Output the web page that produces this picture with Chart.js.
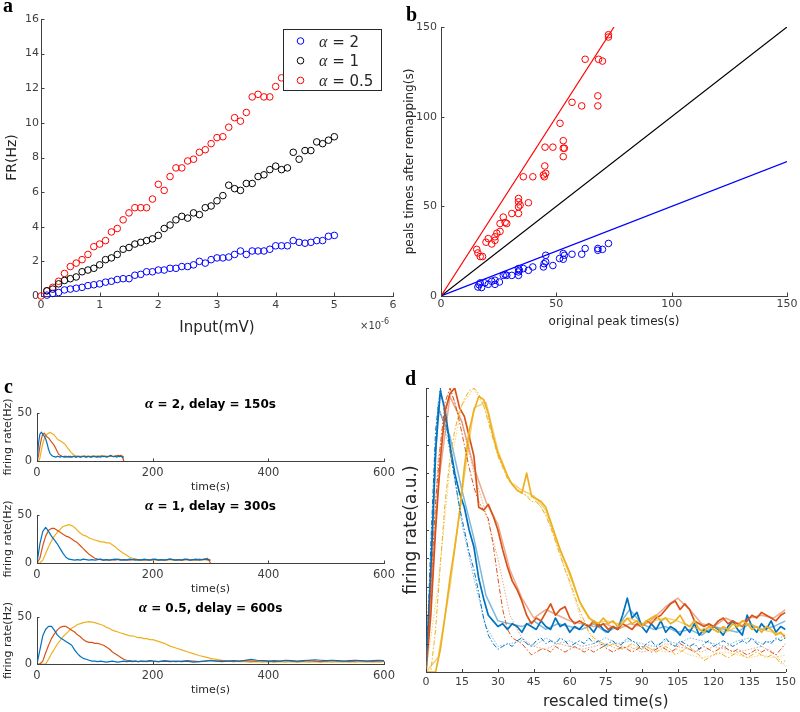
<!DOCTYPE html>
<html><head><meta charset="utf-8">
<script src="https://cdn.jsdelivr.net/npm/chart.js@4.4.1/dist/chart.umd.min.js"></script>
<style>
html,body{margin:0;padding:0;background:#fff;}
body{width:800px;height:712px;position:relative;overflow:hidden;}
canvas{position:absolute;}
</style></head><body>
<canvas id="pa" width="400" height="345" style="left:0;top:0"></canvas>
<canvas id="pb" width="400" height="345" style="left:400px;top:0"></canvas>
<canvas id="pc1" width="400" height="124" style="left:0;top:370px"></canvas>
<canvas id="pc2" width="400" height="102" style="left:0;top:494px"></canvas>
<canvas id="pc3" width="400" height="102" style="left:0;top:596px"></canvas>
<canvas id="pd" width="400" height="352" style="left:400px;top:360px"></canvas>
<script>
// ---------- Panel a data (Input in units of 1e-6 mV) ----------
const aBlueX = [0.1,0.2,0.3,0.4,0.5,0.6,0.7,0.8,0.9,1.0,1.1,1.2,1.3,1.4,1.5,1.6,1.7,1.8,1.9,2.0,2.1,2.2,2.3,2.4,2.5,2.6,2.7,2.8,2.9,3.0,3.1,3.2,3.3,3.4,3.5,3.6,3.7,3.8,3.9,4.0,4.1,4.2,4.3,4.4,4.5,4.6,4.7,4.8,4.9,5.0];
const aBlueY = [0.05,0.15,0.2,0.35,0.4,0.45,0.5,0.6,0.65,0.7,0.8,0.85,0.95,1.0,1.0,1.2,1.25,1.4,1.4,1.5,1.5,1.6,1.6,1.7,1.7,1.8,2.0,1.9,2.1,2.2,2.2,2.25,2.4,2.6,2.4,2.6,2.6,2.6,2.7,2.9,2.9,2.9,3.2,3.1,3.05,3.1,3.2,3.2,3.45,3.5];
const aBlackX = aBlueX;
const aBlackY = [0.3,0.4,0.7,0.9,1.0,1.1,1.4,1.5,1.6,1.8,2.1,2.2,2.4,2.7,2.8,3.0,3.1,3.2,3.3,3.5,3.9,4.1,4.4,4.6,4.5,4.8,4.7,5.1,5.2,5.5,5.8,6.4,6.2,6.1,6.5,6.5,6.9,7.0,7.3,7.5,7.3,7.4,8.3,7.9,8.4,8.4,8.9,8.8,9.0,9.2];
const aRedX = [0,0.1,0.2,0.3,0.4,0.5,0.6,0.7,0.8,0.9,1.0,1.1,1.2,1.3,1.4,1.5,1.6,1.7,1.8,1.9,2.0,2.1,2.2,2.3,2.4,2.5,2.6,2.7,2.8,2.9,3.0,3.1,3.2,3.3,3.4,3.5,3.6,3.7,3.8,3.9,4.0,4.1];
const aRedY = [0,0.3,0.5,0.85,1.3,1.7,1.9,2.1,2.4,2.85,3.0,3.2,3.7,3.9,4.4,4.8,5.1,5.1,5.1,5.6,6.45,6.1,6.9,7.4,7.4,7.8,7.9,8.3,8.45,8.8,9.15,9.2,9.75,10.3,10.1,10.6,11.5,11.65,11.5,11.5,12.1,12.6];
const aLegend = ['α = 2','α = 1','α = 0.5'];

// ---------- Panel b data ----------
const bRedX = [15.5,16,17,18,19.5,20.5,22,23.4,23.4,24.2,25.6,25.6,27,27.8,28.5,30.7,33.6,33.6,33.6,33.6,34.3,35.7,37.9,39.8,44.4,44.8,45,45.4,45.1,48.5,51.6,53,53,53.5,53,56.8,61,62.5,68,68,68.3,70,72.6,72.6];
const bRedY = [26,24,22,22,30,32,29,33,31,35,36,40.4,44,41,40.4,46,54.4,52.5,49.7,46,50.7,66.5,52,66.5,67.5,66.5,72.5,68.4,83,83,96.3,86.6,82.4,82.4,77.7,108,106,132,111.6,106,132,131,145.7,144.4];
const bBlueX = [16,16.5,17,17.6,19,20.5,22,23.4,23.4,25.3,27,27.8,28.5,30.7,33.6,33.6,33.6,34,35.7,37.9,39.8,44.4,44.7,45.4,45.4,48.5,51.4,53,53.5,53,56.8,61,62.5,68,68,70,72.6];
const bBlueY = [5,6.3,7.3,4.7,7.3,6.5,8.2,6.5,8.8,7.8,11.5,12,11.5,11.5,15.3,13.4,11.5,14.3,15.3,14.3,16.2,16.2,18,22.7,19,17,20.9,23.7,22.7,20.5,23.3,23.3,26.5,26.5,25.5,26,29.3];
const bLineRedX = [0,75], bLineRedY = [0,150];
const bLineBlackX = [0,150], bLineBlackY = [0,150];
const bLineBlueX = [0,150], bLineBlueY = [0,75];

// ---------- Panel c data ----------
function sampleGrid(start, stop, step){ const o=[]; for(let k=0;start+k*step<=stop+1e-9;k++) o.push(+(start+k*step).toFixed(3)); return o; }
const c1T = sampleGrid(0,150,2.5);
const c1Blue = [0,18,28,30,28,26,23,18,12,8, 6,5,4.5,4,5,4.5,4,5,4.5,4, 5,4.5,4,5,4,4.5,5,4,4.5,5, 4,4.5,5,4.5,4,5,4.5,4,5,4.5, 5,4,5,4.5,4,5,4.5,5,4,4.5, 5,6,5,4.5,5,4,5,4.5,5,4, 4.5];
const c1Orange = [0,5,15,23,28,29,27,25,24,22, 20,18,16,13,10,7,6,5,4.5,5, 4,4.5,5,4,4.5,5,4.5,4,5,4.5, 4,5,4.5,5,4,4.5,5,4.5,4,5, 4.5,5,4,4.5,5,5.5,5,4.5,5,4.5, 5,5.5,5,4.5,5,5.5,6,5.5,6,5, 0];
const c1Yellow = [0,0,3,11,18,23,26,28,29,30, 29,28,27,25,23,22,21,20,19,18, 16,14,12,10,8.5,7,6,5.5,5,4.5, 5,4.5,5,5.5,5,4.5,5,4.5,5,5.5, 5,4.5,5,5.5,5,4.5,5,5,4.5,5, 5.5,5,4.5,5,5.5,5,4.5,5,5.5,5, 0];
const c2T = sampleGrid(0,300,5);
const c2Blue = [0,20,33,37,33,28,24,20,15,10, 6,4,3.5,3,3.5,3,4,3.5,3,3.5, 3,3.5,4,3,3.5,3,3.5,4,3.5,3, 3.5,3,4,3.5,3,3.5,3,4,3.5,3, 3.5,4,3,3.5,3,3.5,4,3.5,3,3.5, 3,4,3.5,3,3.5,4,3,3.5,4,3.5, 3];
const c2Orange = [0,5,18,28,34,36,36,34,32,30, 28,27,25,23,21,18,15,12,9,7, 5,4,3.5,3,3.5,3,3.5,3,4,3.5, 3,3.5,3,3.5,4,3,3.5,3,3.5,3, 4,3.5,3,3.5,3,3.5,4,3.5,3,3.5, 3,3.5,4,3,3.5,3,4,3.5,4,5, 0];
const c2Yellow = [0,0,3,10,17,23,28,32,35,38, 39,40,39,37,34,31,29,28,26,25, 24,23,22,22,21,21,19,17,14,12, 10,8,6,5,4,3.5,3,3.5,3,3.5, 3,3.5,3,3,3.5,3,3.5,3,3.5,3, 3.5,3,3.5,3,3.5,3,3.5,3,3.5,3, 3];
const c3T = sampleGrid(0,200,5).concat(sampleGrid(210,600,10));
const c3Blue = [0,15,30,37,40,40,36,31,28,26, 24,22,20,15,11,8,6,5,4,3, 3,2.5,3,2.5,2,2.5,3,2.5,2,2.5, 3,2.5,3,2.5,3,2.5,3,2.5,3,3.5, 3,
  2.5,3,2.5,3,2.5,3,2,2.5,3,3.5, 3,2.5,3,3.5,3,4,5,4,3.5,3, 3.5,3,4,3.5,3,3.5,4,4.5,4,3.5, 4,3.5,3,3.5,4,3.5,3,3.5,4,3.5];
const c3Orange = [0,0,3,12,20,27,32,36,39,40, 40,38,36,34,31,29,26,24,23,23, 22,22,21,20,18,16,13,11,9,7, 5,4,3.5,3,3,2.5,3,3,2.5,3, 3,
  2.5,3.5,3,2.5,3,3.5,3,2.5,3,4, 3,3.5,3,2.5,3,3.5,3,3,3.5,3, 2.5,3,3.5,3,2.5,3,3.5,3,2.5,3, 3.5,3,3,2.5,3,3.5,3,2.5,3,3];
const c3Yellow = [0,0,0,0,5,11,16,21,25,29, 32,35,38,40,42,43,44,44.5,45,44.5, 44,43,42,41,39,38,36,35,34,33, 32,31,30,30,29,28,28,27,27,26, 26,
  24,22,19,17,15,13,11,9,7.5,6, 5,4,3.5,3,2.5,2.5,2,2.5,2,2.5, 2,2.5,2,2.5,2,2.5,2,2.5,2,2.5, 2,2.5,2,2.5,2,2.5,2,2.5,2,2.5];
const cTitles = ['α = 2, delay = 150s','α = 1, delay = 300s','α = 0.5, delay = 600s'];

// ---------- Panel d data ----------
const dT = sampleGrid(0,150,2);
const dT5 = sampleGrid(0,150,5);
const dBlue = [0,0.35,0.78,0.99,0.92,0.8,0.7,0.63,0.58,0.5, 0.44,0.33,0.26,0.2,0.18,0.16,0.17,0.15,0.17,0.16, 0.14,0.17,0.16,0.15,0.18,0.16,0.15,0.19,0.16,0.17, 0.14,0.16,0.15,0.17,0.16,0.14,0.17,0.15,0.14,0.16, 0.15,0.2,0.26,0.19,0.21,0.16,0.14,0.17,0.15,0.18, 0.14,0.16,0.15,0.13,0.16,0.14,0.17,0.13,0.15,0.14, 0.16,0.15,0.13,0.16,0.18,0.15,0.13,0.2,0.16,0.14, 0.17,0.15,0.18,0.14,0.16,0.15];
const dBlueDash = [0,0.45,0.85,1.0,0.9,0.78,0.68,0.58,0.5,0.42, 0.36,0.28,0.19,0.13,0.1,0.08,0.09,0.1,0.09,0.11, 0.12,0.1,0.09,0.11,0.12,0.1,0.11,0.1,0.12,0.11, 0.09,0.1,0.11,0.1,0.12,0.1,0.11,0.09,0.1,0.11, 0.09,0.1,0.12,0.11,0.1,0.08,0.1,0.11,0.09,0.1, 0.12,0.1,0.09,0.11,0.1,0.09,0.1,0.08,0.1,0.11, 0.09,0.1,0.11,0.1,0.09,0.1,0.11,0.1,0.12,0.1, 0.09,0.11,0.1,0.12,0.11,0.12];
const dOrange = [0,0.2,0.5,0.75,0.92,0.98,1.0,0.93,0.9,0.83, 0.76,0.58,0.57,0.59,0.55,0.5,0.43,0.37,0.32,0.29, 0.25,0.2,0.17,0.19,0.18,0.21,0.24,0.2,0.22,0.23, 0.19,0.17,0.18,0.17,0.16,0.18,0.16,0.17,0.15,0.16, 0.15,0.17,0.16,0.15,0.17,0.16,0.18,0.17,0.19,0.2, 0.22,0.24,0.25,0.22,0.24,0.22,0.18,0.17,0.16,0.17, 0.16,0.18,0.19,0.17,0.18,0.17,0.16,0.18,0.2,0.19, 0.21,0.2,0.19,0.18,0.2,0.21];
const dOrangeDash = [0,0.3,0.6,0.8,0.95,1.0,0.95,0.88,0.8,0.72, 0.65,0.6,0.57,0.54,0.45,0.33,0.22,0.15,0.12,0.11, 0.1,0.08,0.06,0.07,0.08,0.08,0.07,0.09,0.08,0.07, 0.08,0.09,0.08,0.07,0.08,0.07,0.08,0.09,0.08,0.07, 0.08,0.09,0.08,0.07,0.08,0.09,0.08,0.07,0.08,0.09, 0.08,0.07,0.08,0.1,0.09,0.08,0.07,0.08,0.09,0.08, 0.07,0.08,0.09,0.08,0.07,0.08,0.07,0.06,0.07,0.08, 0.07,0.08,0.07,0.06,0.08,0.1];
const dYellow = [0,0,0,0.08,0.2,0.33,0.44,0.56,0.72,0.85, 0.92,0.97,0.96,0.91,0.83,0.77,0.73,0.69,0.66,0.64, 0.63,0.7,0.62,0.61,0.6,0.58,0.53,0.48,0.43,0.39, 0.35,0.3,0.25,0.22,0.19,0.18,0.17,0.19,0.17,0.18, 0.16,0.17,0.19,0.17,0.18,0.16,0.18,0.19,0.2,0.18, 0.19,0.17,0.18,0.2,0.17,0.16,0.18,0.15,0.14,0.16, 0.15,0.14,0.16,0.15,0.17,0.16,0.18,0.17,0.15,0.16, 0.14,0.16,0.15,0.13,0.14,0.12];
const dYellowDash = [0,0,0.15,0.38,0.6,0.75,0.85,0.92,0.96,0.99, 1.0,0.98,0.94,0.88,0.82,0.76,0.72,0.68,0.66,0.64, 0.63,0.62,0.6,0.6,0.58,0.55,0.51,0.46,0.41,0.36, 0.32,0.27,0.22,0.18,0.14,0.12,0.11,0.1,0.09,0.1, 0.09,0.08,0.09,0.1,0.09,0.08,0.09,0.08,0.07,0.08, 0.09,0.08,0.06,0.07,0.08,0.09,0.07,0.06,0.04,0.05, 0.06,0.07,0.06,0.05,0.06,0.07,0.06,0.05,0.06,0.07, 0.06,0.05,0.06,0.05,0.03,0.04];
const dBlueLight = [0,0.93,0.83,0.64,0.47,0.27,0.18,0.17,0.16,0.18, 0.15,0.17,0.16,0.15,0.17,0.14,0.16,0.22,0.17,0.15, 0.16,0.14,0.15,0.13,0.16,0.15,0.14,0.17,0.15,0.16, 0.18];
const dBlueDot = [0,0.95,0.78,0.52,0.33,0.16,0.09,0.1,0.11,0.09, 0.12,0.1,0.11,0.09,0.1,0.12,0.1,0.11,0.1,0.09, 0.11,0.1,0.12,0.11,0.1,0.09,0.11,0.12,0.1,0.11, 0.13];
const dOrangeLight = [0,0.65,0.97,0.88,0.72,0.6,0.52,0.36,0.26,0.19, 0.22,0.2,0.18,0.17,0.16,0.17,0.15,0.17,0.16,0.19, 0.23,0.26,0.22,0.17,0.16,0.19,0.17,0.19,0.2,0.19, 0.22];
const dOrangeDot = [0,0.75,0.99,0.88,0.7,0.56,0.4,0.2,0.12,0.09, 0.08,0.1,0.09,0.08,0.09,0.1,0.08,0.09,0.07,0.08, 0.1,0.09,0.08,0.07,0.09,0.08,0.07,0.08,0.09,0.07, 0.02];
const dYellowLight = [0,0.05,0.3,0.63,0.93,0.95,0.78,0.67,0.64,0.62, 0.57,0.45,0.34,0.23,0.17,0.18,0.17,0.19,0.17,0.18, 0.19,0.18,0.16,0.15,0.16,0.14,0.16,0.17,0.15,0.14, 0.13];
const dYellowDot = [0,0.3,0.72,0.94,1.0,0.92,0.77,0.67,0.63,0.61, 0.56,0.44,0.31,0.18,0.11,0.09,0.1,0.08,0.09,0.08, 0.07,0.08,0.06,0.05,0.06,0.07,0.06,0.05,0.06,0.05, 0.06];

// ---------- styling ----------
const AXIS = '#404040', TICKC = '#404040', LABC = '#262626';
const BLUE = '#0072BD', ORANGE = '#D95319', YELLOW = '#EDB120';
const BLUE_L = 'rgba(0,114,189,0.5)', ORANGE_L = 'rgba(217,83,25,0.5)', YELLOW_L = 'rgba(237,177,32,0.6)';
const SANS = '"DejaVu Sans", sans-serif';
const SERIF = '"Liberation Serif", "DejaVu Serif", serif';

Chart.defaults.font.family = SANS;
Chart.defaults.color = TICKC;

function pts(xs, ys){ return ys.map((y,i)=>({x: xs[i], y: y})); }
function lineDS(xs, ys, color, width, dash){
  return { data: pts(xs, ys), showLine: true, borderColor: color, borderWidth: width, borderDash: dash || [],
           pointRadius: 0, pointHoverRadius: 0, fill: false, tension: 0, borderJoinStyle: 'round' };
}
function markDS(xs, ys, color){
  return { data: pts(xs, ys), showLine: false, pointStyle: 'circle', pointRadius: 3.3, pointHoverRadius: 3.3,
           pointBorderWidth: 1, pointBorderColor: color, pointBackgroundColor: 'rgba(0,0,0,0)', clip: false };
}
function axis(pos, a){
  const s = {
    type: 'linear', position: pos, min: a.min, max: a.max,
    grid: { display: false, drawTicks: false },
    border: { display: true, color: AXIS, width: 1 },
    ticks: { stepSize: a.step, padding: a.pad, font: { size: a.tf }, color: TICKC, autoSkip: false, maxRotation: 0, minRotation: 0 },
    title: { display: true, text: a.title, color: LABC, font: { size: a.tsize }, padding: { top: a.tpad, bottom: a.tpad } },
    afterFit: pos === 'left' ? (sc) => { sc.width = a.size; } : (sc) => { sc.height = a.size; }
  };
  if (a.noLabels) s.ticks.callback = () => '';
  return s;
}
const inTicks = {
  id: 'inTicks',
  afterDatasetsDraw(chart, args, o){
    const len = o.len || 3;
    const ctx = chart.ctx, a = chart.chartArea, xs = chart.scales.x, ys = chart.scales.y;
    ctx.save(); ctx.strokeStyle = AXIS; ctx.lineWidth = 1; ctx.beginPath();
    xs.ticks.forEach(t => { const p = Math.round(xs.getPixelForValue(t.value)) + 0.5; ctx.moveTo(p, a.bottom); ctx.lineTo(p, a.bottom - len); });
    ys.ticks.forEach(t => { const p = Math.round(ys.getPixelForValue(t.value)) + 0.5; ctx.moveTo(a.left, p); ctx.lineTo(a.left + len, p); });
    ctx.stroke(); ctx.restore();
  }
};
function alphaText(ctx, text, x, y, alphaFont, restFont, align){
  const first = text.slice(0,1), rest = text.slice(1);
  ctx.font = alphaFont; const w1 = ctx.measureText(first).width;
  ctx.font = restFont; const w2 = ctx.measureText(rest).width;
  const start = align === 'center' ? x - (w1 + w2) / 2 : x;
  ctx.textAlign = 'left'; ctx.textBaseline = 'alphabetic';
  ctx.font = alphaFont; ctx.fillText(first, start, y);
  ctx.font = restFont; ctx.fillText(rest, start + w1, y);
}
function letter(ctx, ch, x, y){
  ctx.save(); ctx.fillStyle = '#000'; ctx.font = 'bold 20px ' + SERIF; ctx.textAlign = 'left'; ctx.textBaseline = 'alphabetic';
  ctx.fillText(ch, x, y); ctx.restore();
}
function build(id, datasets, o, extra){
  return new Chart(document.getElementById(id), {
    type: 'scatter',
    data: { datasets: datasets },
    options: {
      responsive: false, animation: false, devicePixelRatio: 1, events: [],
      layout: { padding: { left: 0, top: o.padTop, right: o.padRight, bottom: 0 }, autoPadding: false },
      plugins: { legend: { display: false }, tooltip: { enabled: false }, inTicks: { len: o.tickLen } },
      scales: { x: axis('bottom', o.x), y: axis('left', o.y) }
    },
    plugins: [inTicks].concat(extra || [])
  });
}

// ---------- Panel a ----------
const aColors = ['#0000ff', '#000000', '#ff0000'];
const decorA = { id: 'decorA', afterDatasetsDraw(chart){
  const ctx = chart.ctx; ctx.save();
  ctx.fillStyle = '#fff'; ctx.fillRect(283.5, 29.5, 98, 61);
  ctx.strokeStyle = '#262626'; ctx.lineWidth = 1; ctx.strokeRect(283.5, 29.5, 98, 61);
  aLegend.forEach((lab, i) => {
    const y = 41 + i * 19.7;
    ctx.beginPath(); ctx.arc(300.5, y, 3.3, 0, Math.PI * 2); ctx.strokeStyle = aColors[i]; ctx.lineWidth = 1; ctx.stroke();
    ctx.fillStyle = '#262626';
    alphaText(ctx, lab, 319, y + 5.5, 'italic 16px ' + SERIF, '15px ' + SANS, 'left');
  });
  ctx.fillStyle = TICKC; ctx.textAlign = 'left'; ctx.textBaseline = 'alphabetic';
  ctx.font = '10px ' + SANS; ctx.fillText('×10', 360, 329);
  const w = ctx.measureText('×10').width;
  ctx.font = '8px ' + SANS; ctx.fillText('-6', 360 + w, 324);
  ctx.restore();
  letter(ctx, 'a', 3, 12);
}};
build('pa', [
  markDS(aBlueX, aBlueY, aColors[0]),
  markDS(aBlackX, aBlackY, aColors[1]),
  markDS(aRedX, aRedY, aColors[2])
], { padTop: 19, padRight: 7, tickLen: 3.5,
  x: { min: 0, max: 6, step: 1, pad: 2.4, tf: 11, title: 'Input(mV)', tsize: 15, tpad: 8, size: 49 },
  y: { min: 0, max: 16, step: 2, pad: 2, tf: 11, title: 'FR(Hz)', tsize: 14, tpad: 3.6, size: 41 }
}, [decorA]);

// ---------- Panel b ----------
const decorB = { id: 'decorB', afterDraw(chart){ letter(chart.ctx, 'b', 6, 21); } };
build('pb', [
  markDS(bRedX, bRedY, '#ff0000'),
  markDS(bBlueX, bBlueY, '#0000ff'),
  lineDS(bLineRedX, bLineRedY, '#ff0000', 1.2),
  lineDS(bLineBlackX, bLineBlackY, '#000000', 1.2),
  lineDS(bLineBlueX, bLineBlueY, '#0000ff', 1.2)
], { padTop: 27, padRight: 13, tickLen: 3.5,
  x: { min: 0, max: 150, step: 50, pad: 2, tf: 11, title: 'original peak times(s)', tsize: 12, tpad: 15.8, size: 49 },
  y: { min: 0, max: 150, step: 50, pad: 4, tf: 11, title: 'peals times after remapping(s)', tsize: 12, tpad: 2.8, size: 41 }
}, [decorB]);

// ---------- Panel c ----------
function decorC(idx, titleY, withLetter){
  return { id: 'decorC' + idx, afterDraw(chart){
    const ctx = chart.ctx; ctx.save(); ctx.fillStyle = '#000';
    const a = chart.chartArea;
    alphaText(ctx, cTitles[idx], (a.left + a.right) / 2, titleY, 'italic bold 15px ' + SERIF, 'bold 12px ' + SANS, 'center');
    ctx.restore();
    if (withLetter) letter(ctx, 'c', 4, 23);
  }};
}
function cOpts(padTop, xSize, xtpad){
  return { padTop: padTop, padRight: 14, tickLen: 2.5,
    x: { min: 0, max: 600, step: 200, pad: 5, tf: 11.5, title: 'time(s)', tsize: 11, tpad: xtpad, size: xSize },
    y: { min: 0, max: 50, step: 50, pad: 5, tf: 11.5, title: 'firing rate(Hz)', tsize: 11, tpad: 1.7, size: 37 } };
}
build('pc1', [
  lineDS(c1T, c1Blue, BLUE, 1.2), lineDS(c1T, c1Orange, ORANGE, 1.2), lineDS(c1T, c1Yellow, YELLOW, 1.2)
], cOpts(43, 33, 0), [decorC(0, 38, true)]);
build('pc2', [
  lineDS(c2T, c2Blue, BLUE, 1.2), lineDS(c2T, c2Orange, ORANGE, 1.2), lineDS(c2T, c2Yellow, YELLOW, 1.2)
], cOpts(21, 33, 0), [decorC(1, 16, false)]);
build('pc3', [
  lineDS(c3T, c3Blue, BLUE, 1.2), lineDS(c3T, c3Orange, ORANGE, 1.2), lineDS(c3T, c3Yellow, YELLOW, 1.2)
], cOpts(21, 34, 1), [decorC(2, 16, false)]);

// ---------- Panel d ----------
const decorD = { id: 'decorD', afterDraw(chart){ letter(chart.ctx, 'd', 5, 25); } };
const DASHDOT = [5, 2, 1.5, 2], DOT = [1.5, 1.5];
build('pd', [
  lineDS(dT, dBlueDash, BLUE, 1, DASHDOT),
  lineDS(dT5, dBlueDot, BLUE_L, 1, DOT),
  lineDS(dT, dOrangeDash, ORANGE, 1, DASHDOT),
  lineDS(dT5, dOrangeDot, ORANGE_L, 1, DOT),
  lineDS(dT, dYellowDash, YELLOW, 1, DASHDOT),
  lineDS(dT5, dYellowDot, YELLOW_L, 1, DOT),
  lineDS(dT, dYellow, YELLOW, 1.7),
  lineDS(dT5, dYellowLight, YELLOW_L, 1.5),
  lineDS(dT, dOrange, ORANGE, 1.7),
  lineDS(dT5, dOrangeLight, ORANGE_L, 1.5),
  lineDS(dT, dBlue, BLUE, 1.7),
  lineDS(dT5, dBlueLight, BLUE_L, 1.5)
], { padTop: 28, padRight: 13, tickLen: 3,
  x: { min: 0, max: 150, step: 15, pad: 4, tf: 11, title: 'rescaled time(s)', tsize: 15.5, tpad: 1, size: 40 },
  y: { min: 0, max: 1, step: 0.1, pad: 2, tf: 11, title: 'firing rate(a.u.)', tsize: 17, tpad: 1.5, size: 26, noLabels: true }
}, [decorD]);
</script>
</body></html>
